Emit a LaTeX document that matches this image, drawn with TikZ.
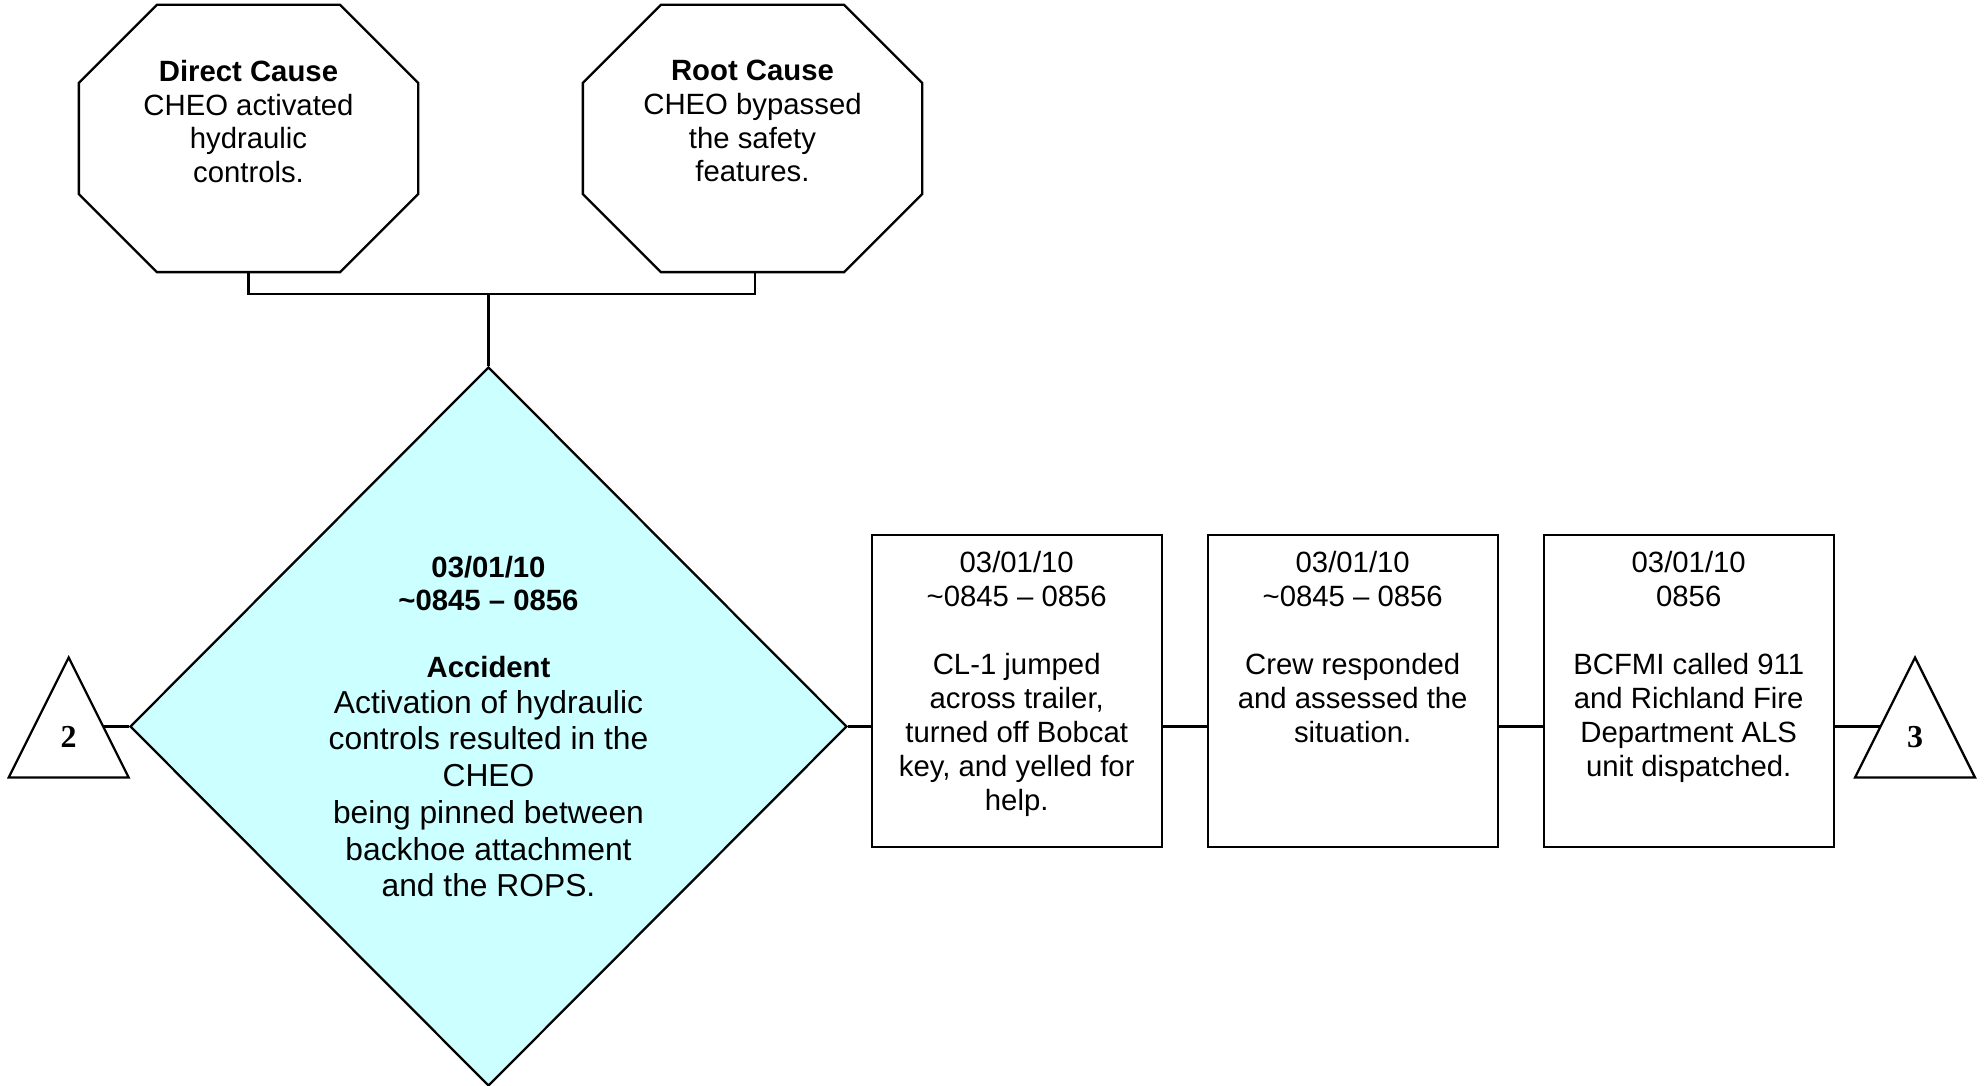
\documentclass[tikz,border=0pt]{standalone}
\usepackage{fontspec}
\setmainfont{Liberation Sans}
\newfontfamily\trifont{Liberation Serif}
\usepackage{tikz}
\usetikzlibrary{shapes.geometric,backgrounds}
\definecolor{accfill}{RGB}{204,255,255}
\newcommand{\evtext}[1]{\parbox[c][2.79cm][t]{2.8cm}{\centering #1}}
\newcommand{\cstext}[1]{\parbox[c][1.56cm][t]{3.2cm}{\centering #1}}
\newcommand{\accbf}[1]{{\fontsize{8.34}{9.56}\selectfont\bfseries #1}}

\begin{document}
\begin{tikzpicture}[node distance=3.36cm, line width=0.65pt,
	cause/.style={rectangle, minimum width=3.37cm, minimum height=2.65cm, inner sep=0pt, font=\fontsize{8.34}{9.56}\selectfont},
	accbox/.style={diamond, draw, fill=accfill, minimum width=7.17cm, minimum height=7.19cm, inner sep=0pt, align=center, font=\fontsize{9.04}{10.44}\selectfont},
	evbox/.style={rectangle, draw, minimum width=2.9cm, minimum height=3.12cm, inner sep=0pt, font=\fontsize{8.34}{9.67}\selectfont},
	tri/.style={isosceles triangle, isosceles triangle apex angle=53.13, shape border rotate=90, isosceles triangle stretches, draw, fill=white, minimum width=1.2cm, minimum height=1.2cm, inner sep=0pt, font=\trifont\bfseries\fontsize{9.1}{10}\selectfont}]
		\useasboundingbox (0,0) rectangle (19.86,10.86);
		\node (dc) [cause] at (2.485,9.475) {\cstext{\textbf{Direct Cause}\\ CHEO activated\\ hydraulic\\ controls.}};
		\node (rc) [cause, node distance=5.04cm, right of=dc] {\cstext{\textbf{Root Cause}\\ CHEO bypassed\\ the safety\\ features.}};
		% octagon outlines round the two causes
		\foreach \n in {dc,rc}
			\draw ([xshift=0.78cm]\n.north west) -- ([xshift=-0.78cm]\n.north east) -- ([yshift=-0.78cm]\n.north east) -- ([yshift=0.78cm]\n.south east) -- ([xshift=-0.78cm]\n.south east) -- ([xshift=0.78cm]\n.south west) -- ([yshift=0.78cm]\n.south west) -- ([yshift=-0.78cm]\n.north west) -- cycle;
		\node (acc) [accbox] at (4.885,3.595) {\accbf{03/01/10}\\[-0.88pt] \accbf{\textasciitilde0845 -- 0856}\\[8.6pt] \accbf{Accident}\\[-0.3pt] Activation of hydraulic\\ controls resulted in the\\ CHEO\\ being pinned between\\ backhoe attachment\\ and the ROPS.};
		\node (e1) [evbox] at (10.167,3.952) {\evtext{03/01/10\\ \textasciitilde0845 -- 0856\\[\baselineskip] CL-1 jumped\\ across trailer,\\ turned off Bobcat\\ key, and yelled for\\ help.}};
		\node (e2) [evbox, right of=e1] {\evtext{03/01/10\\ \textasciitilde0845 -- 0856\\[\baselineskip] Crew responded\\ and assessed the\\ situation.}};
		\node (e3) [evbox, right of=e2] {\evtext{03/01/10\\ 0856\\[\baselineskip] BCFMI called 911\\ and Richland Fire\\ Department ALS\\ unit dispatched.}};
		\node (t2) [tri, anchor=apex] at (0.687,4.31) {\raisebox{0.07cm}{2}};
		\node (t3) [tri, anchor=apex] at (19.15,4.31) {\raisebox{0.07cm}{3}};
		\coordinate (jn) at ([yshift=0.72cm]acc.north);
		\draw (dc.south) |- (jn) -| ([xshift=0.025cm]rc.south);
		\draw (acc.north) -- (jn);
		\draw (acc.east) -- (acc.east -| e1.west);
		\draw (e1.east |- acc.east) -- (e2.west |- acc.east);
		\draw (e2.east |- acc.east) -- (e3.west |- acc.east);
		\begin{scope}[on background layer={line width=0.65pt}]
		\draw (acc.west) -- (acc.west -| t2.apex);
		\draw (e3.east |- acc.east) -- (acc.east -| t3.apex);
		\end{scope}
\end{tikzpicture}
\end{document}
